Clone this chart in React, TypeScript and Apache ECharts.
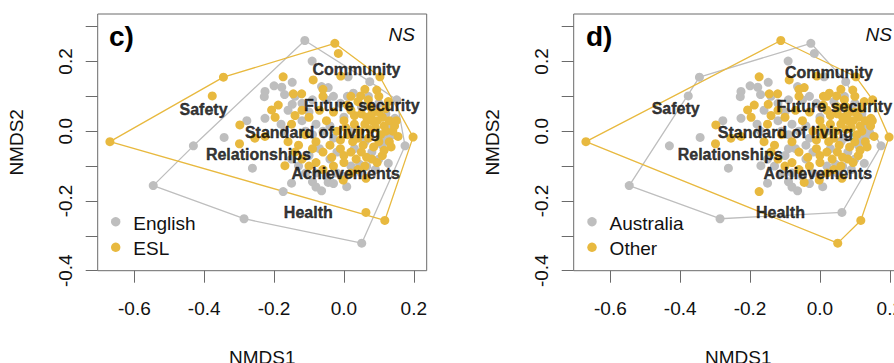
import React, { useEffect, useRef } from 'react';
import * as echarts from 'echarts';

const GRAY = '#BEBEBE';
const GOLD = '#E8B93F';
const FONT = '"Liberation Sans", Arial, Helvetica, sans-serif';

// group names
const languageGroups = ['English', 'ESL'];
const originGroups = ['Australia', 'Other'];

// respondents: [NMDS1, NMDS2, language (0 English, 1 ESL), origin (0 Australia, 1 Other)]
const respondents: number[][] = [
  [-0.670, -0.030, 1, 1],
  [-0.345, 0.155, 1, 0],
  [-0.026, 0.252, 1, 0],
  [-0.016, 0.223, 1, 0],
  [-0.112, 0.260, 0, 1],
  [0.103, 0.156, 1, 1],
  [0.198, -0.017, 1, 1],
  [0.117, -0.256, 1, 1],
  [0.063, -0.233, 1, 0],
  [0.051, -0.321, 0, 1],
  [0.074, 0.142, 0, 0],
  [0.151, 0.090, 0, 1],
  [0.175, -0.042, 0, 0],
  [-0.286, -0.251, 0, 0],
  [-0.546, -0.156, 0, 0],
  [-0.431, -0.042, 0, 0],
  [-0.377, 0.101, 1, 0],
  // English interior
  [-0.091, 0.201, 0, 0],
  [0.012, 0.156, 0, 0],
  [-0.148, 0.140, 0, 0],
  [-0.178, 0.126, 0, 0],
  [-0.226, 0.114, 0, 0],
  [-0.228, 0.099, 0, 0],
  [-0.064, 0.128, 0, 0],
  [-0.045, 0.125, 0, 1],
  [0.027, 0.109, 0, 1],
  [-0.148, 0.077, 0, 1],
  [-0.226, 0.037, 0, 0],
  [-0.278, 0.030, 0, 0],
  [-0.343, -0.018, 0, 0],
  [-0.262, -0.106, 0, 0],
  [-0.174, -0.173, 0, 1],
  [-0.150, -0.149, 0, 0],
  [-0.064, -0.171, 0, 0],
  [0.008, -0.159, 0, 0],
  [-0.090, -0.145, 0, 0],
  [-0.045, -0.147, 0, 1],
  [0.127, -0.092, 0, 0],
  [0.146, 0.037, 0, 1],
  [0.065, -0.101, 0, 0],
  [0.045, -0.095, 0, 0],
  [-0.050, 0.090, 0, 0],
  [-0.010, 0.080, 0, 0],
  [0.050, 0.070, 0, 1],
  [0.090, 0.060, 0, 0],
  [0.120, 0.050, 0, 0],
  [-0.120, 0.030, 0, 0],
  [-0.100, 0.055, 0, 0],
  [-0.080, 0.020, 0, 0],
  [-0.060, 0.000, 0, 0],
  [-0.030, -0.020, 0, 0],
  [-0.070, -0.050, 0, 0],
  [-0.100, -0.070, 0, 0],
  [-0.040, -0.080, 0, 0],
  [-0.020, -0.120, 0, 0],
  [0.020, -0.100, 0, 0],
  [0.080, -0.060, 0, 0],
  [0.110, -0.040, 0, 0],
  [0.140, -0.010, 0, 0],
  [0.000, 0.040, 0, 0],
  [-0.130, -0.100, 0, 0],
  [-0.110, -0.120, 0, 0],
  [0.090, -0.110, 0, 0],
  [-0.170, 0.000, 0, 0],
  [-0.140, 0.100, 0, 0],
  [0.100, 0.080, 0, 0],
  [0.030, -0.050, 0, 0],
  [-0.050, -0.130, 0, 0],
  [0.130, 0.020, 0, 0],
  [-0.120, 0.080, 0, 0],
  [-0.090, 0.090, 0, 0],
  [-0.030, 0.100, 0, 0],
  [0.010, 0.100, 0, 1],
  [0.070, 0.100, 0, 0],
  [-0.160, 0.060, 0, 0],
  [-0.090, -0.010, 0, 0],
  [-0.040, 0.015, 0, 0],
  [0.020, 0.000, 0, 0],
  [0.060, -0.030, 0, 0],
  [0.100, -0.080, 0, 0],
  [0.120, -0.020, 0, 0],
  [-0.020, -0.060, 0, 0],
  [-0.080, -0.120, 0, 0],
  [-0.150, -0.080, 0, 0],
  [0.000, -0.130, 0, 0],
  [-0.030, -0.150, 0, 0],
  [0.050, -0.120, 0, 0],
  [-0.110, 0.000, 0, 0],
  [-0.180, 0.020, 0, 0],
  [-0.080, -0.160, 0, 0],
  [-0.200, 0.130, 0, 0],
  [-0.170, 0.105, 0, 0],
  // ESL interior
  [-0.174, 0.156, 1, 1],
  [-0.088, 0.147, 1, 1],
  [-0.009, 0.158, 1, 1],
  [0.094, 0.118, 1, 1],
  [-0.145, 0.107, 1, 1],
  [-0.121, 0.107, 1, 1],
  [0.048, 0.101, 1, 1],
  [-0.188, 0.075, 1, 1],
  [-0.207, 0.061, 1, 1],
  [-0.197, 0.040, 1, 1],
  [0.127, 0.085, 1, 1],
  [-0.298, 0.018, 1, 1],
  [-0.299, -0.036, 1, 1],
  [-0.255, -0.020, 1, 1],
  [-0.226, -0.015, 1, 1],
  [-0.169, -0.099, 1, 0],
  [0.155, -0.015, 1, 1],
  [-0.002, -0.140, 1, 1],
  [0.063, -0.135, 1, 1],
  [0.020, 0.060, 1, 1],
  [0.050, 0.050, 1, 1],
  [0.080, 0.050, 1, 1],
  [0.110, 0.040, 1, 1],
  [0.130, 0.030, 1, 1],
  [0.000, 0.030, 1, 1],
  [0.030, 0.020, 1, 1],
  [0.060, 0.020, 1, 1],
  [0.090, 0.010, 1, 1],
  [0.120, 0.000, 1, 1],
  [0.140, 0.000, 1, 0],
  [-0.020, 0.000, 1, 1],
  [0.010, -0.010, 1, 1],
  [0.040, -0.020, 1, 1],
  [0.070, -0.020, 1, 0],
  [0.100, -0.030, 1, 1],
  [0.130, -0.030, 1, 1],
  [-0.040, -0.040, 1, 0],
  [-0.010, -0.050, 1, 1],
  [0.020, -0.060, 1, 1],
  [0.050, -0.060, 1, 1],
  [0.080, -0.080, 1, 1],
  [0.110, -0.070, 1, 1],
  [-0.080, -0.030, 1, 1],
  [-0.110, -0.010, 1, 1],
  [-0.130, -0.040, 1, 1],
  [-0.100, 0.040, 1, 1],
  [-0.070, 0.060, 1, 1],
  [-0.050, 0.030, 1, 1],
  [-0.150, 0.020, 1, 1],
  [-0.120, -0.080, 1, 1],
  [-0.080, -0.090, 1, 1],
  [-0.030, -0.100, 1, 1],
  [0.000, -0.090, 1, 1],
  [0.060, -0.100, 1, 1],
  [-0.060, 0.100, 1, 1],
  [0.020, 0.100, 1, 1],
  [0.070, 0.090, 1, 1],
  [0.100, 0.100, 1, 1],
  [0.030, 0.045, 1, 1],
  [0.065, 0.040, 1, 1],
  [0.095, 0.030, 1, 1],
  [0.115, 0.015, 1, 1],
  [0.145, 0.015, 1, 1],
  [0.005, 0.010, 1, 1],
  [0.045, 0.000, 1, 1],
  [0.075, 0.005, 1, 1],
  [0.105, -0.010, 1, 1],
  [0.135, -0.045, 1, 1],
  [0.150, 0.030, 1, 1],
  [-0.010, -0.025, 1, 1],
  [0.025, -0.030, 1, 1],
  [0.055, -0.040, 1, 1],
  [0.085, -0.045, 1, 1],
  [0.115, -0.055, 1, 1],
  [0.000, -0.070, 1, 1],
  [0.035, -0.080, 1, 1],
  [0.065, -0.075, 1, 1],
  [0.095, -0.090, 1, 1],
  [-0.060, -0.060, 1, 1],
  [-0.090, -0.050, 1, 0],
  [-0.140, -0.060, 1, 1],
  [-0.160, -0.030, 1, 1],
  [-0.030, 0.055, 1, 1],
  [0.010, 0.075, 1, 1],
  [0.040, 0.085, 1, 0],
  [0.075, 0.070, 1, 1],
  [0.120, 0.065, 1, 1],
  [0.100, 0.055, 1, 1],
  [-0.035, -0.075, 1, 1],
  [-0.100, -0.100, 1, 1],
  [0.020, -0.120, 1, 1],
  [0.040, -0.110, 1, 1],
  [-0.060, -0.110, 1, 1],
  [0.080, 0.030, 1, 1],
  [-0.120, 0.060, 1, 1],
  [-0.140, 0.045, 1, 1],
  [-0.060, 0.120, 1, 1],
  [0.060, 0.120, 1, 1],
];

// fitted item labels
const itemNames = ['Community', 'Future security', 'Standard of living', 'Relationships', 'Achievements', 'Health', 'Safety'];
const itemPosC: number[][] = [
  [0.036, 0.176], [0.051, 0.0725], [-0.090, -0.004], [-0.245, -0.068], [0.005, -0.122], [-0.102, -0.233], [-0.402, 0.063],
];
const itemPosD: number[][] = [
  [0.026, 0.169], [0.041, 0.070], [-0.099, -0.004], [-0.257, -0.068], [-0.006, -0.122], [-0.113, -0.233], [-0.413, 0.066],
];

const xTicks = [-0.6, -0.4, -0.2, 0, 0.2];
const yTicks = [-0.4, -0.3, -0.2, -0.1, 0, 0.1, 0.2, 0.3];
const yTickLabels = [-0.4, -0.2, 0, 0.2];

function convexHull(pts: number[][]): number[][] {
  const p = pts.map((q) => [q[0], q[1]]).sort((a, b) => a[0] - b[0] || a[1] - b[1]);
  const cross = (o: number[], a: number[], b: number[]) => (a[0] - o[0]) * (b[1] - o[1]) - (a[1] - o[1]) * (b[0] - o[0]);
  const lower: number[][] = [];
  for (const q of p) {
    while (lower.length >= 2 && cross(lower[lower.length - 2], lower[lower.length - 1], q) <= 0) lower.pop();
    lower.push(q);
  }
  const upper: number[][] = [];
  for (let i = p.length - 1; i >= 0; i--) {
    const q = p[i];
    while (upper.length >= 2 && cross(upper[upper.length - 2], upper[upper.length - 1], q) <= 0) upper.pop();
    upper.push(q);
  }
  upper.pop();
  lower.pop();
  const h = lower.concat(upper);
  h.push(h[0]);
  return h;
}

const TICK_COLOR = '#6b6b6b';

function mkX(i: number) {
  return {
    type: 'value', gridIndex: i, min: -0.705, max: 0.237,
    axisLine: { show: false, onZero: false }, splitLine: { show: false },
    axisTick: { show: true, inside: false, length: 12, lineStyle: { color: TICK_COLOR, width: 1 }, customValues: xTicks },
    axisLabel: { customValues: xTicks, formatter: (v: number) => v.toFixed(1), fontSize: 19, color: '#111', margin: 28, fontFamily: FONT },
    name: 'NMDS1', nameLocation: 'middle', nameGap: 77,
    nameTextStyle: { fontSize: 19, color: '#111', fontFamily: FONT },
  };
}
function mkY(i: number) {
  return {
    type: 'value', gridIndex: i, min: -0.4, max: 0.336,
    axisLine: { show: false, onZero: false }, splitLine: { show: false },
    axisTick: { show: true, inside: false, length: 12, lineStyle: { color: TICK_COLOR, width: 1 }, customValues: yTicks },
    axisLabel: { customValues: yTickLabels, rotate: 90, formatter: (v: number) => v.toFixed(1), fontSize: 19, color: '#111', margin: 23, fontFamily: FONT },
    name: 'NMDS2', nameLocation: 'middle', nameGap: 72, nameRotate: 90,
    nameTextStyle: { fontSize: 19, color: '#111', fontFamily: FONT },
  };
}

function panelSeries(i: number, groupIdx: number, names: string[], itemPos: number[][]) {
  const g0 = respondents.filter((r) => r[groupIdx] === 0).map((r) => [r[0], r[1]]);
  const g1 = respondents.filter((r) => r[groupIdx] === 1).map((r) => [r[0], r[1]]);
  return [
    { type: 'line', name: 'hull-' + names[0], xAxisIndex: i, yAxisIndex: i, data: convexHull(g0), symbol: 'none', lineStyle: { color: GRAY, width: 1.3 }, z: 1, silent: true },
    { type: 'line', name: 'hull-' + names[1], xAxisIndex: i, yAxisIndex: i, data: convexHull(g1), symbol: 'none', lineStyle: { color: GOLD, width: 1.3 }, z: 1, silent: true },
    { type: 'scatter', name: names[0], xAxisIndex: i, yAxisIndex: i, data: g0, symbolSize: 9, itemStyle: { color: GRAY, opacity: 1 }, z: 2 },
    { type: 'scatter', name: names[1], xAxisIndex: i, yAxisIndex: i, data: g1, symbolSize: 9, itemStyle: { color: GOLD, opacity: 1 }, z: 3 },
    {
      type: 'scatter', name: 'items-' + i, xAxisIndex: i, yAxisIndex: i, symbolSize: 1, silent: true, z: 5,
      itemStyle: { color: 'rgba(0,0,0,0)' },
      label: {
        show: true, position: 'inside', formatter: '{b}', fontSize: 16, fontWeight: 'bold', color: '#000', fontFamily: FONT,
        textBorderColor: '#000', textBorderWidth: 0.4,
      },
      data: itemNames.map((n, k) => ({ name: n, value: itemPos[k] })),
    },
  ];
}

// legend drawn as graphic: marker centre x, text start x
function legendGraphic(dotX: number, names: string[]) {
  const rows = [
    { y: 221.7, ty: 223.5, color: GRAY, text: names[0] },
    { y: 247.3, ty: 248.5, color: GOLD, text: names[1] },
  ];
  const out: any[] = [];
  rows.forEach((r) => {
    out.push({ type: 'circle', shape: { cx: dotX, cy: r.y, r: 4.7 }, style: { fill: r.color }, silent: true, z: 10 });
    out.push({
      type: 'text', x: dotX + 17.6, y: r.ty, silent: true, z: 10,
      style: { text: r.text, font: '19px ' + FONT, fill: '#111', textVerticalAlign: 'middle' },
    });
  });
  return out;
}

function panelText(x0: number, tag: string, nsRight: number) {
  return [
    { type: 'text', x: x0, y: 36, style: { text: tag, font: 'bold 28px ' + FONT, fill: '#000', textVerticalAlign: 'middle' } },
    { type: 'text', x: nsRight, y: 34, style: { text: 'NS', font: 'italic 19px ' + FONT, fill: '#111', textAlign: 'right', textVerticalAlign: 'middle' } },
  ];
}

export default function App() {
  const ref = useRef<HTMLDivElement>(null);
  useEffect(() => {
    if (!ref.current) return;
    const chart = echarts.init(ref.current, null, { renderer: 'svg' });
    const gridBase = {
      top: 14, width: 329, height: 256.7, show: true, borderColor: TICK_COLOR, borderWidth: 1,
      backgroundColor: 'transparent', containLabel: false, outerBoundsMode: 'none',
    };
    chart.setOption({
      animation: false,
      backgroundColor: '#fff',
      textStyle: { fontFamily: FONT },
      grid: [{ ...gridBase, left: 97.7 }, { ...gridBase, left: 573.7 }],
      xAxis: [mkX(0), mkX(1)],
      yAxis: [mkY(0), mkY(1)],
      graphic: [
        ...panelText(109, 'c)', 415),
        ...panelText(586, 'd)', 892),
        ...legendGraphic(115.7, languageGroups),
        ...legendGraphic(592, originGroups),
      ],
      series: [
        ...panelSeries(0, 2, languageGroups, itemPosC),
        ...panelSeries(1, 3, originGroups, itemPosD),
      ],
    });
    return () => chart.dispose();
  }, []);
  return <div ref={ref} style={{ position: 'fixed', left: 0, top: 0, width: 894, height: 363 }} />;
}
